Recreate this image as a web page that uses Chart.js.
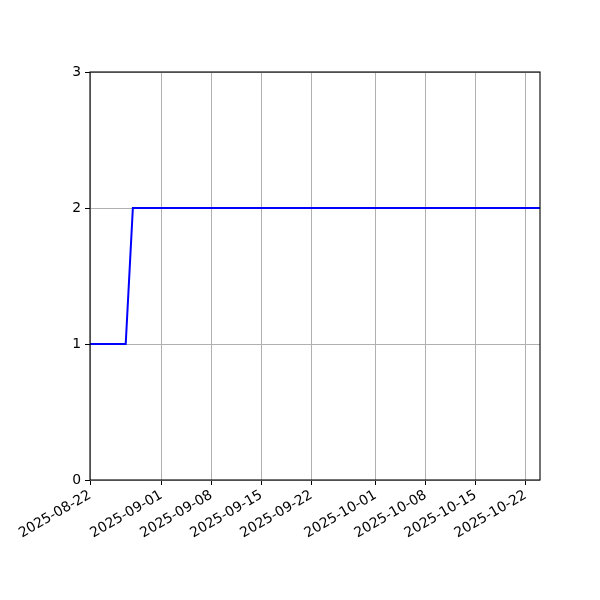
<!DOCTYPE html>
<html>
<head>
<meta charset="utf-8">
<script src="https://cdn.jsdelivr.net/npm/chart.js@4/dist/chart.umd.min.js"></script>
<style>
html,body{margin:0;padding:0;background:#fff;}
#wrap{width:600px;height:600px;}
</style>
</head>
<body>
<div id="wrap"><canvas id="c" width="600" height="600"></canvas></div>
<script>
const dates = ['2025-08-22', '2025-08-27', '2025-08-28', '2025-10-24'];
const values = [1, 1, 2, 2];
const xTickLabels = ['2025-08-22', '2025-09-01', '2025-09-08', '2025-09-15', '2025-09-22', '2025-10-01', '2025-10-08', '2025-10-15', '2025-10-22'];
const yTicks = [0, 1, 2, 3];
const xStart = '2025-08-22';
const xEnd = '2025-10-24';

const DAY = 86400000;
function dayOf(s) { return (Date.parse(s + 'T00:00:00Z') - Date.parse(xStart + 'T00:00:00Z')) / DAY; }
function labelOf(d) {
  const t = new Date(Date.parse(xStart + 'T00:00:00Z') + Math.round(d) * DAY);
  return t.toISOString().slice(0, 10);
}

const points = dates.map((d, i) => ({x: dayOf(d), y: values[i]}));
const font = {family: 'DejaVu Sans', size: 13.9};

const framePlugin = {
  id: 'frame',
  afterDraw(chart) {
    const a = chart.chartArea, ctx = chart.ctx;
    ctx.save();
    ctx.strokeStyle = '#000';
    ctx.lineWidth = 1.1;
    ctx.strokeRect(a.left, a.top, a.right - a.left, a.bottom - a.top);
    ctx.restore();
  }
};

new Chart(document.getElementById('c'), {
  type: 'line',
  data: {
    datasets: [{
      data: points,
      borderColor: '#0000ff',
      borderWidth: 2,
      pointRadius: 0,
      tension: 0,
      fill: false
    }]
  },
  options: {
    responsive: false,
    animation: false,
    devicePixelRatio: 1,
    layout: {padding: {top: 72, right: 60, left: 0, bottom: 0}},
    plugins: {legend: {display: false}, tooltip: {enabled: false}},
    scales: {
      x: {
        type: 'linear',
        min: dayOf(xStart),
        max: dayOf(xEnd),
        afterBuildTicks(scale) {
          scale.ticks = xTickLabels.map(s => ({value: dayOf(s)}));
        },
        afterFit(scale) { scale.height = 120; },
        ticks: {
          autoSkip: false,
          minRotation: 30,
          maxRotation: 30,
          color: '#000',
          font: font,
          padding: 2,
          callback: (v) => labelOf(v)
        },
        grid: {color: '#b0b0b0', lineWidth: 1, tickColor: '#000', tickLength: 5},
        border: {display: false}
      },
      y: {
        min: 0,
        max: 3,
        afterBuildTicks(scale) {
          scale.ticks = yTicks.map(v => ({value: v}));
        },
        afterFit(scale) { scale.width = 90; },
        ticks: {color: '#000', font: font, padding: 4},
        grid: {color: '#b0b0b0', lineWidth: 1, tickColor: '#000', tickLength: 5},
        border: {display: false}
      }
    }
  },
  plugins: [framePlugin]
});
</script>
</body>
</html>
